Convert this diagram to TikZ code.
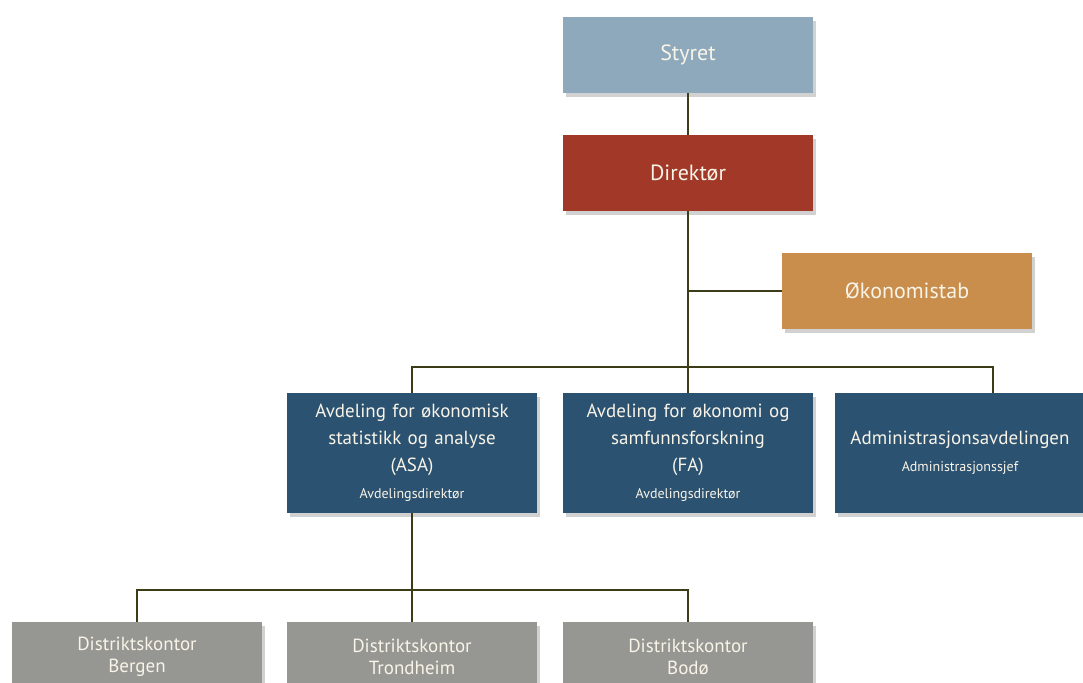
\documentclass[tikz,border=0pt]{standalone}
\usepackage{fontspec}
\setmainfont{PT Sans}
\usepackage{tikz}
\usetikzlibrary{shapes,arrows,shadows}
\definecolor{boardblue}{RGB}{143,169,188}
\definecolor{directorred}{RGB}{162,57,40}
\definecolor{staffbrown}{RGB}{201,141,76}
\definecolor{deptblue}{RGB}{44,82,113}
\definecolor{officegray}{RGB}{150,150,146}
\definecolor{linkolive}{RGB}{60,60,22}
\definecolor{boxtext}{RGB}{248,244,232}
\tikzstyle{unit} = [rectangle, text=boxtext, text width=236pt, text centered,
    minimum width=250pt, inner sep=0pt,
    drop shadow={shadow xshift=3pt, shadow yshift=-4pt, opacity=0.18, fill=black}]
\tikzstyle{board} = [unit, fill=boardblue, minimum height=76pt, font=\fontsize{22}{26}\selectfont]
\tikzstyle{director} = [unit, fill=directorred, minimum height=76pt, font=\fontsize{22}{26}\selectfont]
\tikzstyle{staff} = [unit, fill=staffbrown, minimum height=76pt, font=\fontsize{22}{26}\selectfont]
\tikzstyle{dept} = [unit, fill=deptblue, minimum height=120pt, font=\fontsize{19}{27}\selectfont]
\tikzstyle{office} = [unit, fill=officegray, minimum height=70pt, font=\fontsize{19}{22}\selectfont]
\tikzstyle{link} = [draw, linkolive, line width=1.5pt]

\begin{document}
\begin{tikzpicture}[x=1pt, y=-1pt]
    \useasboundingbox (0,0) rectangle (1083,682);
    % Place nodes
    \node [board, at={(688,55)}] (styret) {Styret};

    \node [director, below of=styret, node distance=118pt] (dir) {Direktør};

    \node [staff, at={(907,291)}] (okstab) {Økonomistab};

    \node [dept, below of=dir, node distance=280pt] (fa) {Avdeling for økonomi og\\ samfunnsforskning\\ (FA)\\ {\fontsize{14}{18}\selectfont Avdelingsdirektør}};
    \node [dept, left of=fa, node distance=276pt] (asa) {Avdeling for økonomisk\\ statistikk og analyse\\ (ASA)\\ {\fontsize{14}{18}\selectfont Avdelingsdirektør}};
    \node [dept, right of=fa, node distance=272pt] (admin) {Administrasjonsavdelingen\\ {\fontsize{14}{18}\selectfont Administrasjonssjef}};

    \node [office, below of=asa, node distance=204pt] (trondheim) {Distriktskontor\\ Trondheim};
    \node [office, left of=trondheim, node distance=275pt] (bergen) {Distriktskontor\\ Bergen};
    \node [office, right of=trondheim, node distance=276pt] (bodo) {Distriktskontor\\ Bodø};

    \coordinate (deptbus) at (688,367);
    \coordinate (officebus) at (412,590);

    % Draw lines
    \path [link] (styret) -- (dir);
    \path [link] (dir) |- (okstab);
    \path [link] (dir) -- (fa);
    \path [link] (asa) |- (deptbus) -| ([xshift=33pt]admin.north);
    \path [link] (asa) -- (trondheim);
    \path [link] (bergen) |- (officebus) -| (bodo);
\end{tikzpicture}
\end{document}
